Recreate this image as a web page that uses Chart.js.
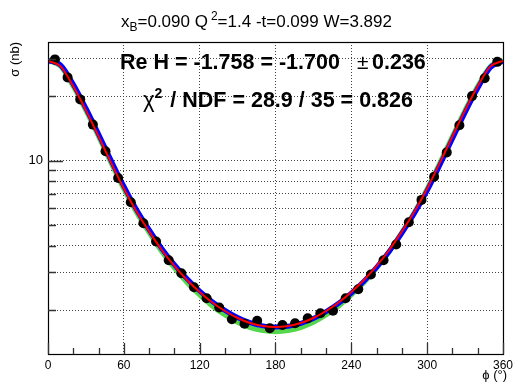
<!DOCTYPE html>
<html><head><meta charset="utf-8">
<script src="https://cdn.jsdelivr.net/npm/chart.js@4/dist/chart.umd.min.js"></script>
<style>html,body{margin:0;padding:0;background:#fff;}#wrap{width:517px;height:383px;}</style>
</head><body><div id="wrap"><canvas id="c" width="517" height="383"></canvas></div>
<script>
// ---- data ----
const phiPoints = [5.5,15.5,25.5,35.5,45.5,55.5,65.5,75.5,85.5,95.5,105.5,115.5,125.5,135.5,145.5,155.5,165.5,175.5,
                   185.5,195.5,205.5,215.5,225.5,235.5,245.5,255.5,265.5,275.5,285.5,295.5,305.5,315.5,325.5,335.5,345.5,355.5];
const sigmaPoints = [29.77,24.52,19.34,14.74,11.07,8.30,6.39,5.09,4.18,3.42,2.97,2.555,2.269,2.055,1.811,1.725,1.782,1.642,
                     1.701,1.733,1.829,1.930,1.985,2.269,2.50,2.93,3.42,4.05,5.15,6.55,8.41,10.93,14.65,20.04,24.31,28.98];
const phiCurve = [0,10,20,30,40,50,60,70,80,90,100,110,120,130,140,150,160,170,180,
                  190,200,210,220,230,240,250,260,270,280,290,300,310,320,330,340,350,360];
const sigmaRed = [29.30,27.61,22.26,17.18,12.98,9.755,7.41,5.785,4.664,3.819,3.214,2.763,2.428,2.169,1.979,1.835,1.738,1.682,1.664,
                  1.682,1.738,1.835,1.979,2.169,2.428,2.763,3.214,3.819,4.664,5.785,7.41,9.755,12.98,17.18,22.26,27.61,29.30];
const sigmaBlue = [29.39,27.97,22.75,17.59,13.31,10.00,7.59,5.905,4.750,3.881,3.261,2.799,2.454,2.189,1.994,1.846,1.745,1.686,1.664,
                   1.678,1.731,1.824,1.964,2.149,2.402,2.728,3.167,3.758,4.579,5.668,7.236,9.516,12.66,16.78,21.79,27.26,29.21];
const sigmaGreen = [29.46,27.61,22.26,17.18,12.98,9.73,7.37,5.739,4.614,3.758,3.146,2.690,2.351,2.089,1.895,1.752,1.656,1.601,1.582,
                    1.601,1.656,1.752,1.895,2.089,2.351,2.690,3.146,3.758,4.614,5.739,7.37,9.73,12.98,17.18,22.26,27.61,29.46];
const xTickValues = [0,20,40,60,80,100,120,140,160,180,200,220,240,260,280,300,320,340,360];
const xLabelValues = [0,60,120,180,240,300,360];
const yTickValues = [2,3,4,5,6,7,8,9,10,20,30];
const yLabelValues = [10];
const yMin = 1.245, yMax = 35.9;

const pts = (xs, ys) => xs.map((v, i) => ({x: v, y: ys[i]}));
const FONT = '"Liberation Sans", Arial, Helvetica, sans-serif';

function drawRuns(ctx, runs, x, y) {
  let cx = x;
  for (const r of runs) {
    ctx.font = r.font;
    ctx.fillText(r.t, cx, y + (r.dy || 0));
    cx += ctx.measureText(r.t).width + (r.gap || 0);
  }
  return cx;
}

const deco = {
  id: 'deco',
  afterDraw(chart) {
    const {ctx, chartArea: a, scales: {x, y}} = chart;
    ctx.save();
    // frame
    ctx.strokeStyle = '#000'; ctx.lineWidth = 1.2;
    ctx.strokeRect(a.left + 0.5, a.top + 0.5, a.right - a.left, a.bottom - a.top);
    // inner ticks
    ctx.strokeStyle = '#333'; ctx.lineWidth = 1.3;
    ctx.beginPath();
    for (const v of xTickValues) {
      const px = Math.round(x.getPixelForValue(v)) + 0.5;
      const len = xLabelValues.includes(v) ? 11 : 6;
      ctx.moveTo(px, a.bottom); ctx.lineTo(px, a.bottom - len);
    }
    for (const v of yTickValues) {
      const py = Math.round(y.getPixelForValue(v)) + 0.5;
      const len = yLabelValues.includes(v) ? 15 : 8;
      ctx.moveTo(a.left, py); ctx.lineTo(a.left + len, py);
    }
    ctx.stroke();
    // texts
    ctx.fillStyle = '#000';
    ctx.textBaseline = 'alphabetic'; ctx.textAlign = 'left';
    drawRuns(ctx, [
      {t: 'x', font: '17px ' + FONT},
      {t: 'B', font: '12px ' + FONT, dy: 4},
      {t: '=0.090 Q', font: '17px ' + FONT, gap: 3},
      {t: '2', font: '12px ' + FONT, dy: -7},
      {t: '=1.4 -t=0.099 W=3.892', font: '17px ' + FONT}
    ], 121, 27);
    drawRuns(ctx, [
      {t: 'Re H = -1.758 = -1.700', font: 'bold 21.5px ' + FONT}
    ], 120, 69);
    drawRuns(ctx, [{t: '\u00B1', font: '21px ' + FONT}], 357, 69);
    drawRuns(ctx, [{t: '0.236', font: 'bold 21.5px ' + FONT}], 372, 69);
    drawRuns(ctx, [
      {t: '\u03C7', font: '22px ' + FONT},
      {t: '2', font: 'bold 14px ' + FONT, dy: -9, gap: 2},
      {t: ' / NDF = 28.9 / 35 = 0.826', font: 'bold 21.5px ' + FONT}
    ], 143, 107);
    // axis titles
    ctx.font = '13px ' + FONT;
    ctx.textAlign = 'right'; ctx.textBaseline = 'alphabetic';
    ctx.fillText('\u03D5 (\u00B0)', 507, 379);
    ctx.save();
    ctx.translate(19, a.top);
    ctx.rotate(-Math.PI / 2);
    ctx.textAlign = 'right';
    ctx.fillText('\u03C3 (nb)', 0, 0);
    ctx.restore();
    ctx.restore();
  }
};

new Chart(document.getElementById('c'), {
  type: 'line',
  data: {
    datasets: [
      {label: 'red', data: pts(phiCurve, sigmaRed), borderColor: '#ff0000', borderWidth: 2,
       pointRadius: 0, cubicInterpolationMode: 'monotone', fill: false},
      {label: 'data', data: pts(phiPoints, sigmaPoints), showLine: false, pointRadius: 5,
       pointBackgroundColor: '#000', pointBorderWidth: 0, borderColor: '#000'},
      {label: 'blue', data: pts(phiCurve, sigmaBlue), borderColor: '#0000ff', borderWidth: 5,
       pointRadius: 0, cubicInterpolationMode: 'monotone', fill: false},
      {label: 'green', data: pts(phiCurve, sigmaGreen), borderColor: '#55d64b', borderWidth: 5,
       pointRadius: 0, cubicInterpolationMode: 'monotone', fill: false}
    ]
  },
  options: {
    responsive: false, animation: false, devicePixelRatio: 1,
    layout: {padding: {left: 0, right: 10, top: 42, bottom: 0}},
    plugins: {legend: {display: false}, tooltip: {enabled: false}, title: {display: false}},
    scales: {
      x: {
        type: 'linear', min: 0, max: 360,
        afterBuildTicks: s => { s.ticks = xTickValues.map(v => ({value: v})); },
        afterFit: s => { s.height = 29; },
        ticks: {autoSkip: false, maxRotation: 0, padding: 4, color: '#000',
                font: {family: FONT, size: 12},
                callback: v => xLabelValues.includes(v) ? String(v) : ''},
        grid: {drawTicks: false, lineWidth: 1,
               color: c => (c.tick && xLabelValues.includes(c.tick.value) && c.tick.value > 0 && c.tick.value < 360) ? '#444' : 'rgba(0,0,0,0)'},
        border: {display: false, dash: [1, 2]}
      },
      y: {
        type: 'logarithmic', min: yMin, max: yMax,
        afterBuildTicks: s => { s.ticks = yTickValues.map(v => ({value: v})); },
        afterFit: s => { s.width = 48; },
        ticks: {autoSkip: false, padding: 5, color: '#000',
                font: {family: FONT, size: 13},
                callback: v => yLabelValues.includes(v) ? String(v) : ''},
        grid: {drawTicks: false, lineWidth: 1, color: '#444'},
        border: {display: false, dash: [1, 2]}
      }
    }
  },
  plugins: [deco]
});
</script>
</body></html>
